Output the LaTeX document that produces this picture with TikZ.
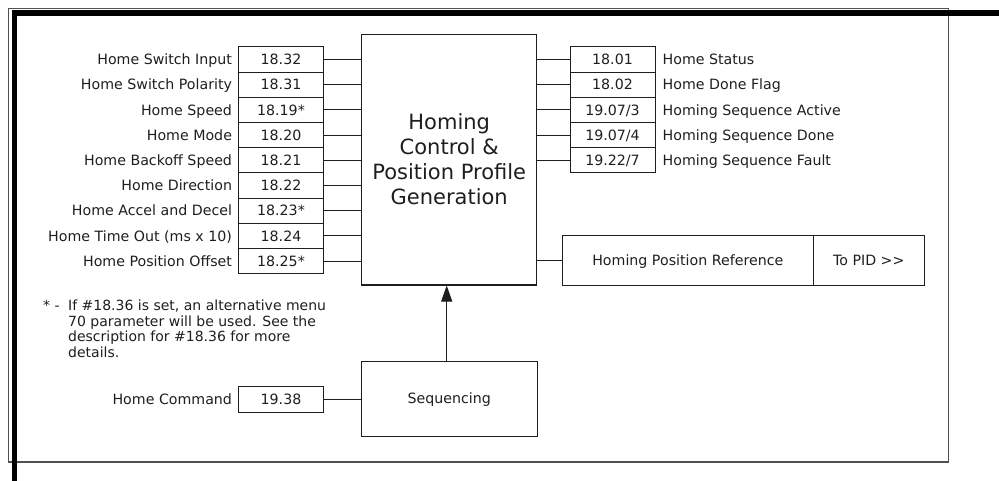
\documentclass[tikz,border=0pt]{standalone}
\usepackage{fontspec}
\setmainfont{DejaVu Sans}
\usetikzlibrary{arrows.meta}
\definecolor{ink}{HTML}{1E1E1E}
\definecolor{framegray}{HTML}{505050}
\begin{document}
\begin{tikzpicture}[x=1pt,y=-1pt,
  lbl/.style={font=\fontsize{14.2}{16}\selectfont, text height=10.3pt, text depth=0pt, inner sep=0pt, text=ink},
  numbox/.style={lbl, draw=ink, line width=1pt, minimum width=84.6pt, minimum height=25.2pt},
  blockbox/.style={draw=ink, line width=1pt, inner sep=0pt, text=ink},
  wire/.style={draw=ink, line width=1pt}
]
\useasboundingbox (0,0) rectangle (999,481);
% frame
\draw[framegray, line width=1.2pt] (8.5,8.5) rectangle (948.5,462);
\fill[black] (12,10.5) rectangle (999,16.5);
\fill[black] (12,10.5) rectangle (17,481);

% main block
\node[blockbox, minimum width=175pt, minimum height=250.7pt, align=center,
      font=\fontsize{21}{25}\selectfont] (main) at (449.2,159.65)
  {Homing\\Control \&\\Position Profile\\Generation};

% left inputs
\foreach \lab/\num [count=\i from 0] in {
  Home Switch Input/18.32,
  Home Switch Polarity/18.31,
  Home Speed/18.19*,
  Home Mode/18.20,
  Home Backoff Speed/18.21,
  Home Direction/18.22,
  Home Accel and Decel/18.23*,
  Home Time Out (ms x 10)/18.24,
  Home Position Offset/18.25*}{
  \node[numbox] (L\i) at (281,{59.6+25.2*\i}) {\num};
  \node[lbl, anchor=east] (LL\i) at ([xshift=-6pt]L\i.west) {\lab};
  \draw[wire] (L\i.east) -- (L\i.east -| main.west);
}

% right outputs
\foreach \lab/\num [count=\i from 0] in {
  Home Status/{18.01},
  Home Done Flag/{18.02},
  Homing Sequence Active/{19.07/3},
  Homing Sequence Done/{19.07/4},
  Homing Sequence Fault/{19.22/7}}{
  \node[numbox, minimum width=85pt] (R\i) at (612.5,{59.6+25.2*\i}) {\num};
  \node[lbl, anchor=west] (RL\i) at ([xshift=7pt]R\i.east) {\lab};
  \draw[wire] (R\i.west -| main.east) -- (R\i.west);
}

% position reference
\node[numbox, minimum width=251pt, minimum height=50pt] (hpr) at (687.8,260.7) {Homing Position Reference};
\node[numbox, minimum width=111pt, minimum height=50pt] (pid) at (868.8,260.7) {To PID >{}>};
\draw[wire] (main.east |- hpr.west) -- (hpr.west);

% sequencing
\node[numbox, minimum width=176.3pt, minimum height=75pt] (seq) at (449.2,398.5) {Sequencing};
\node[numbox, minimum height=25.6pt] (cmd) at (281,399.5) {19.38};
\node[lbl, anchor=east] (cmdl) at ([xshift=-6pt]cmd.west) {Home Command};
\draw[wire] (cmd.east) -- (cmd.east -| seq.west);
\draw[wire, -{Triangle[length=16pt,width=11pt]}] ([xshift=-2.5pt]seq.north) -- ([xshift=-2.5pt]seq.north |- main.south);

% footnote
\node[anchor=base west, inner sep=0pt, font=\fontsize{14}{15.7}\selectfont, text=ink] (note) at (43,310.5)
  {\makebox[25pt][l]{* -}\parbox[t]{280pt}{If \#18.36 is set, an alternative menu\\70 parameter will be used. See the\\description for \#18.36 for more\\details.}};
\end{tikzpicture}
\end{document}
